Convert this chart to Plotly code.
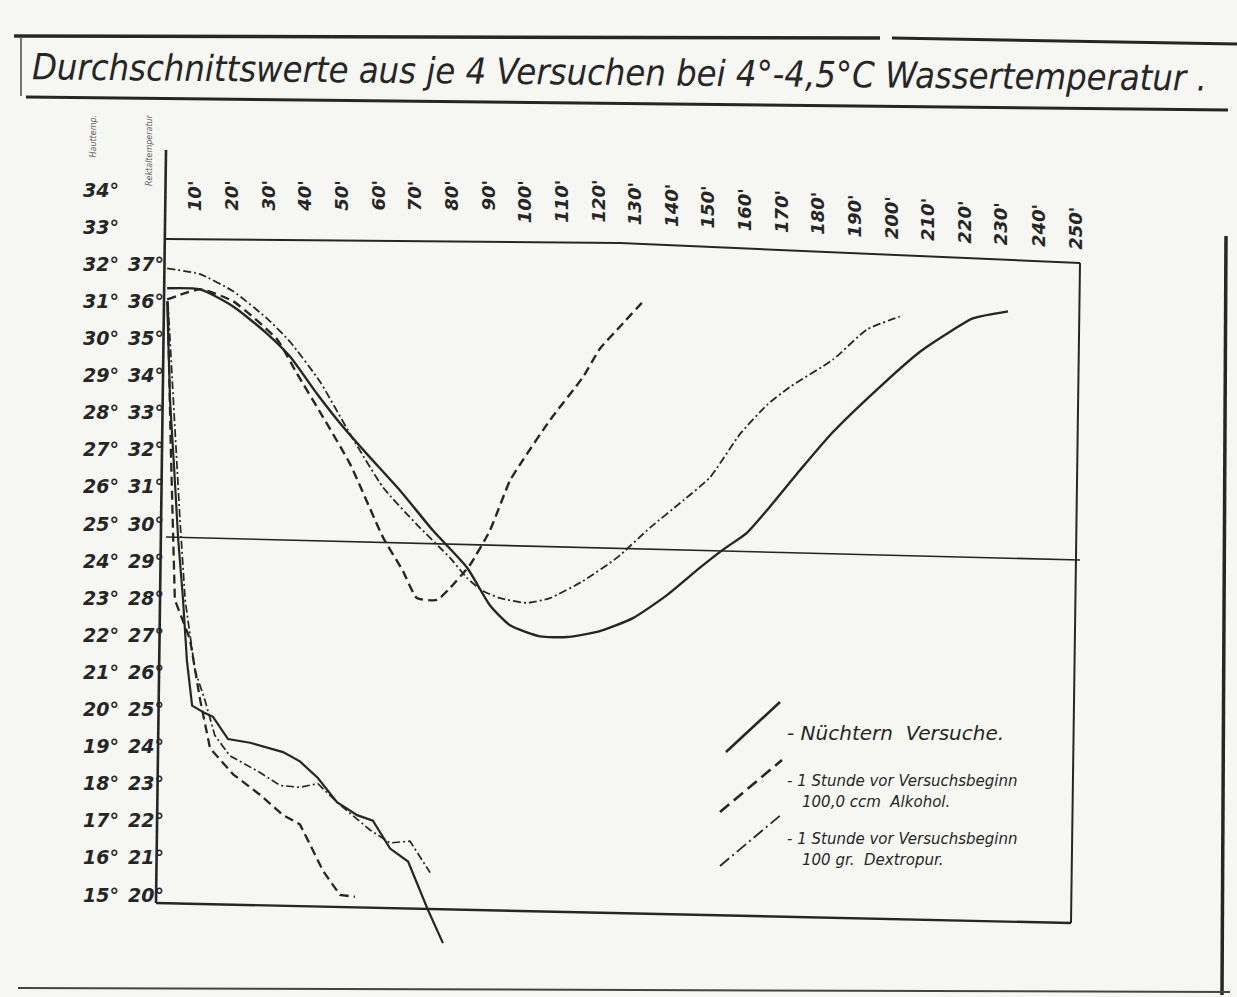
import plotly.graph_objects as go

W, H = 1237, 997

# ---------------- data ----------------
minute_ticks = list(range(10, 260, 10))
minute_labels = [f"{m}'" for m in minute_ticks]
skin_ticks = list(range(15, 35))
skin_labels = [f"{v}°" for v in skin_ticks]
rectal_ticks = list(range(20, 38))
rectal_labels = [f"{v}°" for v in rectal_ticks]

# Rektaltemperatur (right label column)
rect_nuechtern_t = [2.5, 11.5, 20.5, 29.7, 36, 43.4, 50.5, 57, 66, 75, 84.3, 90.5, 96, 104.2, 111.5,
                    120.5, 129.5, 138.8, 147.8, 154, 160.6, 166, 175, 184, 197.7, 207.8, 216, 222.2, 231.8]
rect_nuechtern = [36.35, 36.32, 35.86, 35.13, 34.51, 33.50, 32.61, 31.88, 30.90, 29.82, 28.82, 27.81, 27.27, 26.97,
                  26.95, 27.11, 27.46, 28.08, 28.82, 29.30, 29.76, 30.36, 31.44, 32.47, 33.77, 34.64, 35.18, 35.54, 35.73]

rect_alkohol_t = [2.5, 11.5, 20.5, 32.5, 37.9, 45, 52.4, 61.4, 66.8, 70.6, 76.1, 79.6, 85.1, 90.5, 96, 99.5,
                  106.9, 115.9, 120.5, 126, 132.8]
rect_alkohol = [36.05, 36.32, 36.0, 34.97, 34.05, 32.88, 31.61, 29.63, 28.73, 28.0, 27.95, 28.27, 28.9, 29.82,
                31.17, 31.72, 32.8, 33.96, 34.72, 35.32, 36.05]

rect_dextro_t = [2.5, 11.5, 20.5, 29.7, 36, 44.2, 52.4, 61.4, 70.6, 79.6, 84.3, 88.6, 93.3, 100.6, 106.9, 115.9,
                 125.2, 134.2, 143.2, 150.5, 158.7, 166.1, 172.3, 184.1, 193.3, 202.3]
rect_dextro = [36.89, 36.73, 36.27, 35.54, 34.91, 33.83, 32.42, 30.98, 29.98, 29.09, 28.54, 28.19, 28.0, 27.87,
               28.0, 28.46, 29.09, 29.90, 30.63, 31.25, 32.42, 33.21, 33.69, 34.43, 35.24, 35.59]

# Hauttemperatur (left label column)
skin_nuechtern_t = [2.5, 3.3, 4.4, 5.5, 6.8, 7.9, 9.3, 12.8, 15.0, 19.1, 25.1, 34.1, 38.7, 43.6, 48.8, 54.3,
                    58.6, 63.3, 68.2, 73.6, 77.7]
skin_nuechtern = [31.0, 28.3, 26.5, 24.6, 23.0, 21.3, 20.1, 19.9, 19.8, 19.2, 19.1, 18.85, 18.6, 18.15, 17.5,
                  17.15, 17.0, 16.25, 15.9, 14.6, 13.7]

skin_alkohol_t = [2.7, 3.5, 4.6, 8.7, 11.5, 14.2, 20.5, 27.8, 34.1, 38.7, 41.5, 45.0, 49.6, 53.7]
skin_alkohol = [30.8, 27.0, 22.95, 21.9, 20.25, 18.95, 18.25, 17.7, 17.15, 16.9, 16.35, 15.65, 15.0, 14.95]

skin_dextro_t = [2.7, 4.6, 6.0, 7.4, 10.1, 12.8, 15.5, 19.6, 27.8, 33.3, 38.7, 43.6, 48.8, 52.4, 57.8, 63.3,
                 68.7, 74.2]
skin_dextro = [31.0, 27.5, 25.1, 22.95, 21.05, 20.25, 19.3, 18.75, 18.3, 17.95, 17.9, 18.0, 17.5, 17.2, 16.75,
               16.4, 16.45, 15.6]

legend_lines = ["- Nüchtern  Versuche.",
                "- 1 Stunde vor Versuchsbeginn", "100,0 ccm  Alkohol.",
                "- 1 Stunde vor Versuchsbeginn", "100 gr.  Dextropur."]
title_text = "Durchschnittswerte aus je 4 Versuchen bei 4°-4,5°C Wassertemperatur ."

# ---------------- styling / layout ----------------
INK = "#262626"
PAPER = "#f6f6f3"
X_RANGE = [1.91, 251.43]
SKIN_RANGE = [13.515, 35.078]
RECT_OFFSET = 5


def px(x):
    return x / W


def py(y):
    return 1 - y / H


fig = go.Figure()

fig.add_trace(go.Scatter(x=rect_nuechtern_t, y=rect_nuechtern, yaxis="y2", mode="lines",
                         line=dict(color=INK, width=2.4, shape="spline", smoothing=0.6)))
fig.add_trace(go.Scatter(x=rect_alkohol_t, y=rect_alkohol, yaxis="y2", mode="lines",
                         line=dict(color=INK, width=2.4, dash="9px,5px", shape="spline", smoothing=0.5)))
fig.add_trace(go.Scatter(x=rect_dextro_t, y=rect_dextro, yaxis="y2", mode="lines",
                         line=dict(color=INK, width=1.8, dash="8px,3px,2px,3px", shape="spline", smoothing=0.5)))

fig.add_trace(go.Scatter(x=skin_nuechtern_t, y=skin_nuechtern, mode="lines",
                         line=dict(color=INK, width=2.2)))
fig.add_trace(go.Scatter(x=skin_alkohol_t, y=skin_alkohol, mode="lines",
                         line=dict(color=INK, width=2.3, dash="9px,5px")))
fig.add_trace(go.Scatter(x=skin_dextro_t, y=skin_dextro, mode="lines",
                         line=dict(color=INK, width=1.7, dash="8px,3px,2px,3px")))

shapes = []


def seg(points, width=2.0, dash="solid", color=INK):
    path = "M " + " L ".join(f"{px(a):.5f},{py(b):.5f}" for a, b in points)
    shapes.append(dict(type="path", path=path, xref="paper", yref="paper",
                       line=dict(color=color, width=width, dash=dash)))


# chart frame (slightly skewed like the scan)
seg([(166, 150), (156, 903)], 2.6)                       # vertical axis line
seg([(166, 239), (620, 243), (1080, 263)], 2.0)          # top of box
seg([(1080, 263), (1071, 923)], 2.0)                     # right of box
seg([(156, 903), (1071, 923)], 2.4)                      # bottom of box
seg([(166, 537), (1080, 560)], 1.6)                      # 30° reference line
# page frame and title underline
seg([(14, 36), (880, 38)], 3.5)
seg([(892, 38), (1237, 44)], 3.0)
seg([(21, 38), (21, 96)], 1.6, color="#555")
seg([(1226, 236), (1222, 995)], 3.5)
seg([(18, 988), (1230, 992)], 2.0, color="#444")
seg([(26, 97), (1228, 110)], 3.0)

# legend samples
seg([(726, 752), (780, 702)], 2.6)
seg([(720, 812), (782, 760)], 2.6, dash="12px,6px")
seg([(720, 866), (782, 814)], 1.8, dash="12px,4px,2px,4px")

annotations = []
label_font = dict(family="DejaVu Sans", size=18, color=INK, weight="bold", style="italic")
# top minute labels
for m, lab in zip(minute_ticks, minute_labels):
    xpix = 158 + 3.667 * m
    top = 178 + max(0.0, xpix - 600) * 0.056
    annotations.append(dict(x=m, xref="x", y=py(top), yref="paper", text=lab, showarrow=False,
                            textangle=-90, xanchor="center", yanchor="top", font=label_font))

annotations.append(dict(x=px(30), y=py(72), xref="paper", yref="paper", text=title_text, showarrow=False,
                        xanchor="left", yanchor="middle", textangle=0.55,
                        font=dict(family="DejaVu Sans Condensed, DejaVu Sans, sans-serif",
                                  size=36, color=INK, style="italic")))

annotations.append(dict(x=px(93), y=py(112), xref="paper", yref="paper", text="Hauttemp.", showarrow=False,
                        textangle=-90, xanchor="center", yanchor="top",
                        font=dict(family="DejaVu Sans", size=8, color="#666", style="italic")))
annotations.append(dict(x=px(149), y=py(112), xref="paper", yref="paper", text="Rektaltemperatur",
                        showarrow=False, textangle=-90, xanchor="center", yanchor="top",
                        font=dict(family="DejaVu Sans", size=8, color="#666", style="italic")))

leg_font = dict(family="DejaVu Sans", size=16, color=INK, style="italic")
leg_pos = [(785, 733, 20), (785, 781, 15), (800, 802, 15), (785, 839, 15), (800, 860, 15)]
for txt, (lx, ly, fs) in zip(legend_lines, leg_pos):
    annotations.append(dict(x=px(lx), y=py(ly), xref="paper", yref="paper", text=txt,
                            showarrow=False, xanchor="left", yanchor="middle",
                            font=dict(leg_font, size=fs)))

tick_font = dict(family="DejaVu Sans", size=19, color=INK, weight="bold", style="italic")

fig.update_layout(
    width=W, height=H,
    margin=dict(l=0, r=0, t=0, b=0),
    paper_bgcolor=PAPER, plot_bgcolor="rgba(0,0,0,0)",
    showlegend=False,
    shapes=shapes,
    annotations=annotations,
    xaxis=dict(domain=[px(165), px(1080)], range=X_RANGE, showgrid=False, zeroline=False,
               showline=False, showticklabels=False, ticks="", automargin=False),
    yaxis=dict(domain=[py(950), py(150)], range=SKIN_RANGE, anchor="free", position=px(119),
               tickvals=skin_ticks, ticktext=skin_labels, tickfont=tick_font, ticks="",
               showgrid=False, zeroline=False, showline=False, automargin=False),
    yaxis2=dict(overlaying="y", anchor="x", side="left",
                range=[SKIN_RANGE[0] + RECT_OFFSET, SKIN_RANGE[1] + RECT_OFFSET],
                tickvals=rectal_ticks, ticktext=rectal_labels, tickfont=tick_font, ticks="",
                showgrid=False, zeroline=False, showline=False, automargin=False),
)

fig.write_html("out.html")
